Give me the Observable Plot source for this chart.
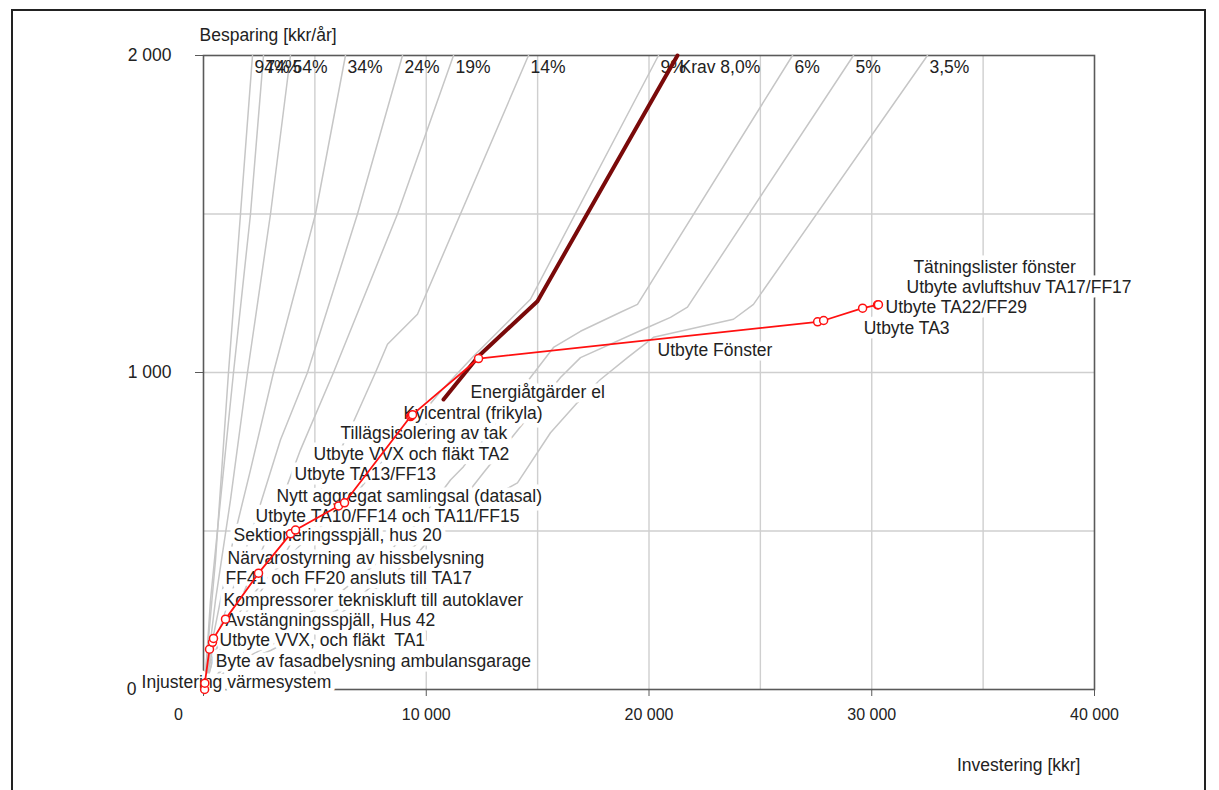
<!DOCTYPE html>
<html><head><meta charset="utf-8">
<script src="https://cdn.jsdelivr.net/npm/d3@7"></script>
<script src="https://cdn.jsdelivr.net/npm/@observablehq/plot@0.6"></script>
<style>
body{margin:0;background:#fff;}
#wrap{position:relative;width:1219px;height:790px;overflow:hidden;}
#chart svg{display:block;}
#border{position:absolute;left:11px;top:9px;width:1195px;height:830px;border:2px solid #222;box-sizing:border-box;pointer-events:none;}
</style></head>
<body><div id="wrap"><div id="chart"></div><div id="border"></div></div>
<script>
// ---- measures (cumulative investment kkr, cumulative saving kkr/år)
const measureNames = [
  "Injustering värmesystem",
  "Byte av fasadbelysning ambulansgarage",
  "Utbyte VVX, och fläkt  TA1",
  "Avstängningsspjäll, Hus 42",
  "Kompressorer tekniskluft till autoklaver",
  "FF41 och FF20 ansluts till TA17",
  "Närvarostyrning av hissbelysning",
  "Sektioneringsspjäll, hus 20",
  "Utbyte TA10/FF14 och TA11/FF15",
  "Nytt aggregat samlingsal (datasal)",
  "Utbyte TA13/FF13",
  "Utbyte VVX och fläkt TA2",
  "Tillägsisolering av tak",
  "Kylcentral (frikyla)",
  "Energiåtgärder el",
  "Utbyte Fönster",
  "Utbyte TA3",
  "Utbyte TA22/FF29",
  "Utbyte avluftshuv TA17/FF17",
  "Tätningslister fönster"
];
const investment = [50, 60, 270, 404, 449, 988, 2470, 3906, 4131, 6062, 6331, 9294, 9339, 9384, 12348, 27570, 27840, 29590, 30260, 30300];
const savings    = [0, 20, 127, 149, 161, 222, 367, 491, 503, 579, 589, 861, 864, 867, 1044, 1160, 1164, 1203, 1213, 1214];

// ---- profitability curves (investment, saving)
const curveNames = ["94%","74%","54%","34%","24%","19%","14%","9%","6%","5%","3,5%"];
const c94 = [[50,0],[135,92],[539,408],[1122,1000],[1661,1500],[2200,2000]];
const c74 = [[50,0],[314,282],[763,598],[1347,1000],[2110,1500],[2693,2000]];
const c54 = [[50,0],[539,282],[1212,598],[1975,1000],[3008,1500],[3905,2000]];
const c34 = [[50,0],[404,155],[1122,408],[2110,693],[3142,1000],[5028,1500],[6374,2000]];
const c24 = [[50,0],[404,123],[1302,313],[2334,535],[3457,788],[4669,1000],[6913,1500],[8933,2000]];
const c19 = [[50,0],[539,123],[1661,282],[3008,503],[4354,756],[5836,1000],[8709,1500],[11223,2000]];
const c14 = [[50,0],[404,92],[1661,218],[3232,377],[4803,566],[6374,788],[7721,1000],[8260,1089],[9606,1184],[14589,2000]];
const c9  = [[50,0],[135,60],[988,187],[2559,329],[4354,456],[6599,598],[8844,788],[10639,940],[12120,1051],[13781,1168],[14679,1231],[20425,2000]];
const c6  = [[50,0],[1212,92],[3457,187],[5701,282],[7945,408],[9741,535],[11088,661],[11671,703],[14679,984],[15712,1079],[16924,1130],[18720,1190],[19483,1215],[26441,2000]];
const c5  = [[50,0],[763,60],[3008,123],[5701,218],[7945,329],[9741,440],[11088,551],[12569,684],[14230,829],[16026,984],[16924,1047],[19932,1142],[20964,1174],[21727,1206],[29179,2000]];
const c35 = [[50,0],[539,35],[2110,108],[4354,187],[6823,282],[8394,377],[9741,472],[11761,560],[14095,652],[15577,810],[16789,905],[17821,978],[19034,1047],[20201,1111],[23792,1168],[24690,1215],[32500,2000]];
const kravName = "Krav 8,0%";
const krav = [[10774,915],[12345,1051],[14993,1225],[21278,2000]];

// ---- axes
const xTicks = [0, 10000, 20000, 30000, 40000];
const yTicks = [0, 1000, 2000];
const xGrid = [5000, 10000, 15000, 20000, 25000, 30000, 35000];
const yGrid = [500, 1000, 1500];
const yTitle = "Besparing [kkr/år]";
const xTitle = "Investering [kkr]";

// ---- layout (label offsets in px relative to each point)
const labelOffsets = [[-63,-7],[11,-22],[10,-9],[13,-22],[10,-38],[0,-41],[-31,-15],[-57,2],[-40,-14],[-62,-10],[-50,-28],[-97,38],[-71,18],[-9,-1],[-8,34],[-160,29],[40,8],[23,-1],[29,-18],[35,-37]];

const measures = measureNames.map((name, i) => ({name, invest: investment[i], saving: savings[i]}));
const curves = [c94,c74,c54,c34,c24,c19,c14,c9,c6,c5,c35];
const curveRows = curves.flatMap((c, i) => c.map(([x, y]) => ({curve: curveNames[i], x, y})));
const kravRows = krav.map(([x, y]) => ({x, y}));
const tops = curves.map((c, i) => ({name: curveNames[i], x: c[c.length-1][0], y: c[c.length-1][1]}))
  .concat([{name: kravName, x: krav[krav.length-1][0], y: krav[krav.length-1][1]}]);

const fmt = d => d3.format(",")(d).replace(/,/g, " ");
const FS = 17.5;
const TXT = "#222";

const halos = measures.map((d, i) => Plot.text([d], {x: "invest", y: "saving", text: "name", textAnchor: "start",
  dx: labelOffsets[i][0], dy: labelOffsets[i][1], fontSize: FS, fill: "white", stroke: "white", strokeWidth: 9, strokeLinejoin: "round"}));
const labels = measures.map((d, i) => Plot.text([d], {x: "invest", y: "saving", text: "name", textAnchor: "start",
  dx: labelOffsets[i][0], dy: labelOffsets[i][1], fontSize: FS, fill: TXT}));

const chart = Plot.plot({
  width: 1219, height: 790,
  marginLeft: 203, marginRight: 125, marginTop: 55, marginBottom: 101,
  style: {fontFamily: "'Liberation Sans', Arial, sans-serif", background: "transparent"},
  x: {domain: [0, 40000]},
  y: {domain: [0, 2000]},
  marks: [
    Plot.gridX(xGrid, {stroke: "#cfcfcf", strokeOpacity: 1, strokeWidth: 1.4}),
    Plot.gridY(yGrid, {stroke: "#cfcfcf", strokeOpacity: 1, strokeWidth: 1.4}),
    Plot.frame({stroke: "#5a5a5a", strokeWidth: 1.6}),
    Plot.axisX(xTicks, {tickSize: 7, tickPadding: 12, tickFormat: d => d === 0 ? "" : fmt(d), fontSize: 16, stroke: "#5a5a5a", fill: TXT, label: null}),
    Plot.axisX([0], {tickSize: 0, tickPadding: 19, tickFormat: fmt, fontSize: 16, dx: -25, fill: TXT, label: null}),
    Plot.axisY(yTicks, {tickSize: 8, tickPadding: 24, tickFormat: d => d === 0 ? "" : fmt(d), fontSize: 17.5, stroke: "#5a5a5a", fill: TXT, label: null}),
    Plot.axisY([0], {tickSize: 0, tickPadding: 32, tickFormat: fmt, fontSize: 17.5, dx: -35, fill: TXT, label: null}),
    Plot.line(curveRows, {x: "x", y: "y", z: "curve", stroke: "#c6c6c6", strokeWidth: 1.5}),
    Plot.text(tops, {x: "x", y: "y", text: "name", textAnchor: "start", dx: 2, dy: 12, fontSize: FS, fill: TXT}),
    Plot.line(kravRows, {x: "x", y: "y", stroke: "#7a0a0a", strokeWidth: 4, strokeLinecap: "round"}),
    ...halos,
    ...labels,
    Plot.line(measures, {x: "invest", y: "saving", stroke: "#ff1010", strokeWidth: 1.8}),
    Plot.dot(measures, {x: "invest", y: "saving", r: 4, fill: "white", stroke: "#ff1010", strokeWidth: 1.5}),
    Plot.text([yTitle], {frameAnchor: "top-left", textAnchor: "start", lineAnchor: "middle", dx: -4, dy: -20, fontSize: FS, fill: TXT}),
    Plot.text([xTitle], {frameAnchor: "bottom-right", textAnchor: "end", lineAnchor: "middle", dx: -14, dy: 76, fontSize: FS, fill: TXT})
  ]
});
document.getElementById("chart").appendChild(chart);
</script>
</body></html>
